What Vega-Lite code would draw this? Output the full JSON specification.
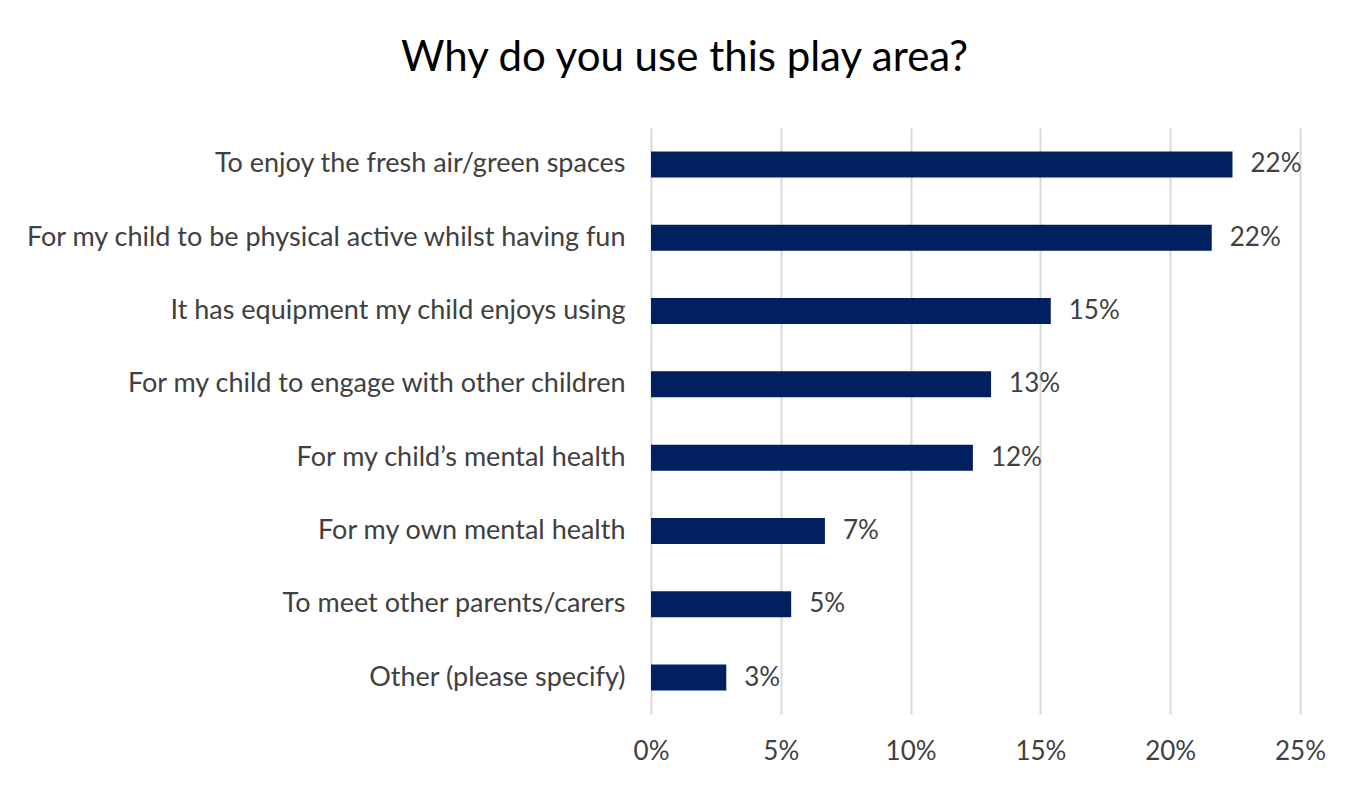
{
  "$schema": "https://vega.github.io/schema/vega-lite/v6.json",
  "autosize": "none",
  "width": 649,
  "height": 586,
  "padding": {"left": 651, "top": 128, "right": 67, "bottom": 71},
  "background": "white",
  "title": {
    "text": "Why do you use this play area?",
    "font": "Lato",
    "fontSize": 42,
    "fontWeight": "normal",
    "color": "#000000",
    "anchor": "middle",
    "dx": -291,
    "baseline": "alphabetic",
    "offset": 15
  },
  "data": {
    "values": [
      {"reason": "To enjoy the fresh air/green spaces", "share": 0.224},
      {"reason": "For my child to be physical active whilst having fun", "share": 0.216},
      {"reason": "It has equipment my child enjoys using", "share": 0.154},
      {"reason": "For my child to engage with other children", "share": 0.131},
      {"reason": "For my child’s mental health", "share": 0.124},
      {"reason": "For my own mental health", "share": 0.067},
      {"reason": "To meet other parents/carers", "share": 0.054},
      {"reason": "Other (please specify)", "share": 0.029}
    ]
  },
  "encoding": {
    "y": {
      "field": "reason",
      "type": "nominal",
      "sort": null,
      "scale": {"paddingInner": 0.645, "paddingOuter": 0.32},
      "axis": {
        "title": null,
        "domain": false,
        "ticks": false,
        "labelPadding": 26,
        "labelFont": "Lato",
        "labelFontSize": 27,
        "labelColor": "#404040",
        "labelLimit": 700
      }
    },
    "x": {
      "field": "share",
      "type": "quantitative",
      "scale": {"domain": [0, 0.25], "nice": false},
      "axis": {
        "title": null,
        "format": ".0%",
        "values": [0, 0.05, 0.1, 0.15, 0.2, 0.25],
        "domain": false,
        "ticks": false,
        "labelFlush": false,
        "labelPadding": 24,
        "labelFont": "Lato",
        "labelFontSize": 26,
        "labelColor": "#404040",
        "gridColor": "#d9d9d9",
        "gridWidth": 2
      }
    }
  },
  "layer": [
    {"mark": {"type": "bar", "color": "#002060"}},
    {
      "mark": {"type": "text", "align": "left", "dx": 18, "font": "Lato", "fontSize": 26, "color": "#404040", "baseline": "middle"},
      "encoding": {"text": {"field": "share", "type": "quantitative", "format": ".0%"}}
    }
  ],
  "config": {"view": {"stroke": null}}
}
